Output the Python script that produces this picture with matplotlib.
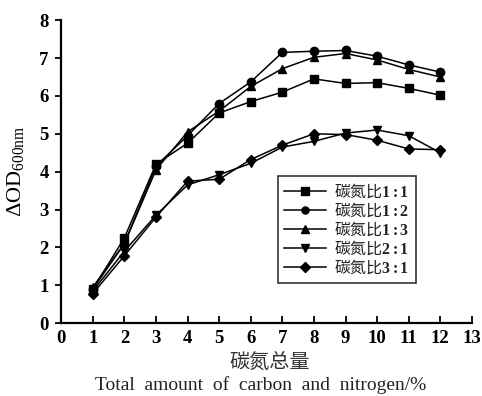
import matplotlib
matplotlib.use("Agg")
import matplotlib.pyplot as plt

x = [1, 2, 3, 4, 5, 6, 7, 8, 9, 10, 11, 12]
s11 = [0.9, 2.25, 4.2, 4.75, 5.55, 5.85, 6.1, 6.45, 6.33, 6.35, 6.2, 6.02]
s12 = [0.9, 2.1, 4.15, 4.95, 5.8, 6.37, 7.15, 7.18, 7.2, 7.05, 6.82, 6.63]
s13 = [0.95, 2.1, 4.05, 5.05, 5.6, 6.25, 6.72, 7.02, 7.12, 6.95, 6.7, 6.5]
s21 = [0.85, 1.9, 2.85, 3.65, 3.92, 4.22, 4.65, 4.8, 5.02, 5.1, 4.95, 4.5]
s31 = [0.78, 1.78, 2.8, 3.75, 3.8, 4.32, 4.7, 5.0, 4.98, 4.83, 4.6, 4.58]
labels = [r"碳氮比$\mathbf{1:1}$", r"碳氮比$\mathbf{1:2}$", r"碳氮比$\mathbf{1:3}$",
          r"碳氮比$\mathbf{2:1}$", r"碳氮比$\mathbf{3:1}$"]
markers = ["s", "o", "^", "v", "D"]
xticks = list(range(0, 14))
yticks = list(range(0, 9))

plt.rcParams["mathtext.fontset"] = "custom"
plt.rcParams["mathtext.rm"] = "Liberation Serif"
plt.rcParams["mathtext.it"] = "Liberation Serif:italic"
plt.rcParams["mathtext.bf"] = "Liberation Serif:bold"

serif = ["Liberation Serif", "DejaVu Serif"]
cjk = ["Noto Sans CJK SC", "DejaVu Sans"]

fig = plt.figure(figsize=(4.82, 3.96), dpi=100)
ax = fig.add_axes([0.127, 0.184, 0.852, 0.765])

for ys, lab, m in zip([s11, s12, s13, s21, s31], labels, markers):
    ms = 5.5 if m == "D" else 6
    ax.plot(x, ys, color="black", marker=m, markersize=ms, linewidth=1.1, label=lab)

ax.set_xlim(0, 13)
ax.set_ylim(0, 8)
ax.set_xticks(xticks)
ax.set_yticks(yticks)
ax.spines["top"].set_visible(False)
ax.spines["right"].set_visible(False)
ax.spines["left"].set_linewidth(1.6)
ax.spines["bottom"].set_linewidth(1.6)
ax.tick_params(axis="x", direction="in", length=5, width=1.3, pad=5)
ax.tick_params(axis="y", direction="out", length=4, width=1.3, pad=5)
for t in ax.get_xticklabels() + ax.get_yticklabels():
    t.set_fontfamily(serif)
    t.set_fontweight("bold")
    t.set_fontsize(13.5)

ax.set_ylabel(r"$\Delta\mathrm{OD}_{600\mathrm{nm}}$", fontsize=16)
ax.yaxis.set_label_coords(-0.085, 0.5)

fig.text(0.56, 0.086, "碳氮总量", ha="center", va="center", fontsize=14.5,
         fontfamily=cjk, color="#333333")
fig.text(0.54, 0.028, "Total  amount  of  carbon  and  nitrogen/%", ha="center",
         va="center", fontsize=14, fontfamily=serif, color="#222222")

leg = ax.legend(loc="upper left", bbox_to_anchor=(0.528, 0.487),
                prop={"family": cjk, "size": 11.5}, frameon=True, fancybox=False,
                edgecolor="black", handlelength=2.6, borderpad=0.4,
                labelspacing=0.02, handletextpad=0.5, markerscale=0.85,
                borderaxespad=0)
leg.get_frame().set_linewidth(1.2)
for t in leg.get_texts():
    t.set_color("#222222")

fig.savefig("out.png", dpi=100)
